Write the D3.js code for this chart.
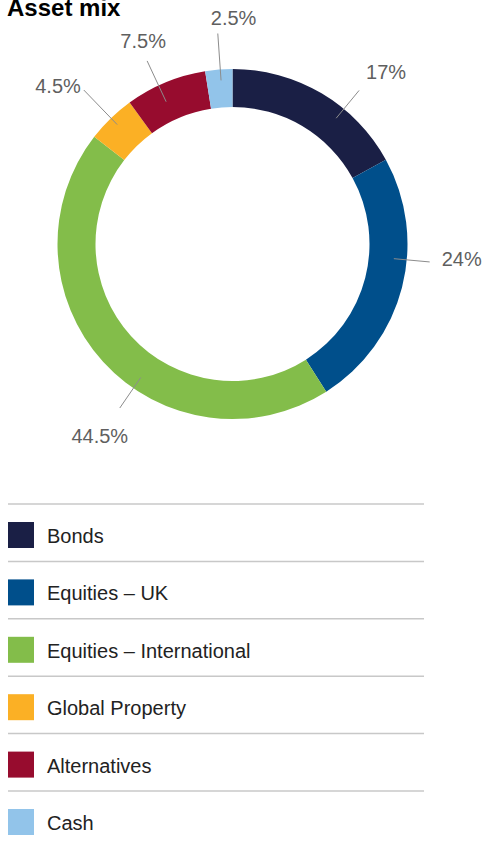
<!DOCTYPE html>
<html>
<head>
  <meta charset="utf-8">
  <title>Asset mix</title>
  <script src="https://d3js.org/d3.v7.min.js"></script>
  <style>
    html, body {
      margin: 0;
      padding: 0;
      background: #fff;
    }
    svg {
      display: block;
      font-family: "Liberation Sans", Arial, Helvetica, sans-serif;
    }
    .title {
      font-size: 24px;
      font-weight: bold;
      fill: #000;
    }
    .pct {
      font-size: 20px;
      fill: #5f5f5f;
    }
    .leader {
      stroke: #8c8c8c;
      stroke-width: 1;
    }
    .legend-line {
      stroke: #c8c8c8;
      stroke-width: 1.5;
    }
    .legend-label {
      font-size: 20px;
      fill: #222;
    }
  </style>
</head>
<body>
  <svg width="484" height="846"></svg>

  <script>
    // data
    const categories = ["Bonds", "Equities – UK", "Equities – International", "Global Property", "Alternatives", "Cash"];
    const values = [17, 24, 44.5, 4.5, 7.5, 2.5];
    const colors = ["#1a1f45", "#004f8b", "#83bd4a", "#fbb025", "#970c2e", "#92c4ea"];

    const width = 484, height = 846;
    const cx = 232.5, cy = 244;
    const outerR = 175, innerR = 137;

    const svg = d3.select("svg");

    svg.append("text")
      .attr("class", "title")
      .attr("x", 7)
      .attr("y", 16)
      .text("Asset mix");

    const rows = categories.map((c, i) => ({ name: c, value: values[i], color: colors[i] }));

    const pie = d3.pie().sort(null).value(d => d.value);
    const arc = d3.arc().innerRadius(innerR).outerRadius(outerR);
    const arcs = pie(rows);

    const g = svg.append("g").attr("transform", `translate(${cx},${cy})`);

    g.selectAll("path.slice")
      .data(arcs)
      .enter().append("path")
      .attr("class", "slice")
      .attr("d", arc)
      .attr("fill", d => d.data.color);

    // leader placement, hand tuned to match the original layout
    // shift = degrees away from slice middle, r1/r2 = line radii, dx/dy/anchor = text offset from outer end
    const leader = [
      { shift: 8.9,   r1: 163, r2: 199, dx: 7,   dy: -11, anchor: "start" },
      { shift: -9.2,  r1: 162, r2: 198, dx: 12,  dy: 4,   anchor: "start" },
      { shift: -13.2, r1: 162, r2: 199, dx: -20, dy: 35,  anchor: "middle" },
      { shift: 0.1,   r1: 166, r2: 214, dx: -3,  dy: 3,   anchor: "end" },
      { shift: -2.5,  r1: 157, r2: 202, dx: -4,  dy: -13, anchor: "middle" },
      { shift: 0.5,   r1: 164, r2: 211, dx: -7,  dy: -9,  anchor: "start" }
    ];

    const polar = (a, r) => [Math.sin(a) * r, -Math.cos(a) * r];
    const fmt = v => v + "%";

    arcs.forEach((d, i) => {
      const L = leader[i];
      const a = (d.startAngle + d.endAngle) / 2 + L.shift * Math.PI / 180;
      const p1 = polar(a, L.r1);
      const p2 = polar(a, L.r2);

      g.append("line")
        .attr("class", "leader")
        .attr("x1", p1[0]).attr("y1", p1[1])
        .attr("x2", p2[0]).attr("y2", p2[1]);

      g.append("text")
        .attr("class", "pct")
        .attr("x", p2[0] + L.dx)
        .attr("y", p2[1] + L.dy)
        .attr("text-anchor", L.anchor)
        .text(fmt(d.data.value));
    });

    // legend
    const y = d3.scaleBand()
      .domain(categories)
      .range([504, 504 + 57.4 * categories.length])
      .padding(0);

    const legend = svg.selectAll("g.legend")
      .data(rows)
      .enter().append("g")
      .attr("class", "legend")
      .attr("transform", d => `translate(0,${y(d.name)})`);

    legend.append("line")
      .attr("class", "legend-line")
      .attr("x1", 8).attr("x2", 424)
      .attr("y1", 0).attr("y2", 0);

    legend.append("rect")
      .attr("x", 8)
      .attr("y", 18)
      .attr("width", 26)
      .attr("height", 26)
      .attr("fill", d => d.color);

    legend.append("text")
      .attr("class", "legend-label")
      .attr("x", 47)
      .attr("y", 39)
      .text(d => d.name);
  </script>
</body>
</html>
